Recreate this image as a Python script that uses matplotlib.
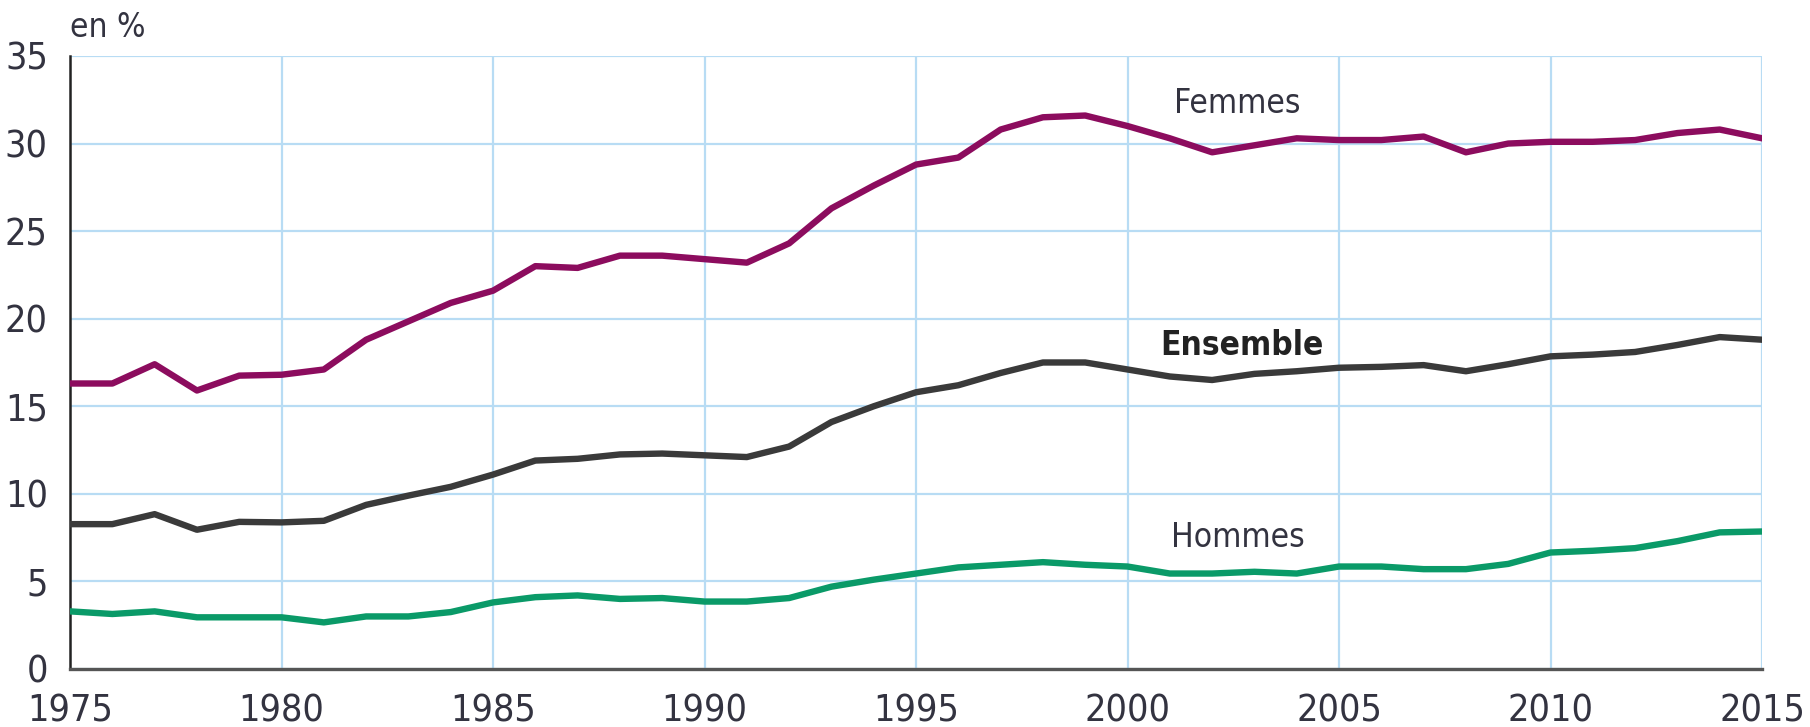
import matplotlib
matplotlib.use("Agg")
import matplotlib.pyplot as plt

years = list(range(1975, 2016))
femmes = [16.3, 16.3, 17.4, 15.9, 16.75, 16.8, 17.1, 18.8, 19.85, 20.9,
          21.6, 23.0, 22.9, 23.6, 23.6, 23.4, 23.2, 24.3, 26.3, 27.6,
          28.8, 29.2, 30.8, 31.5, 31.6, 31.0, 30.3, 29.5, 29.9, 30.3,
          30.2, 30.2, 30.4, 29.5, 30.0, 30.1, 30.1, 30.2, 30.6, 30.8, 30.3]
ensemble = [8.27, 8.27, 8.84, 7.95, 8.4, 8.37, 8.46, 9.37, 9.9, 10.4,
            11.1, 11.9, 12.0, 12.25, 12.3, 12.2, 12.1, 12.7, 14.1, 15.0,
            15.8, 16.2, 16.9, 17.5, 17.5, 17.1, 16.7, 16.5, 16.85, 17.0,
            17.2, 17.25, 17.35, 17.0, 17.4, 17.85, 17.95, 18.1, 18.5, 18.95, 18.8]
hommes = [3.29, 3.14, 3.29, 2.95, 2.95, 2.95, 2.66, 3.0, 3.0, 3.25,
          3.8, 4.1, 4.2, 4.0, 4.05, 3.85, 3.85, 4.05, 4.7, 5.1,
          5.45, 5.8, 5.95, 6.1, 5.95, 5.85, 5.45, 5.45, 5.55, 5.45,
          5.85, 5.85, 5.7, 5.7, 6.0, 6.65, 6.75, 6.9, 7.3, 7.8, 7.85]

xticks = [1975, 1980, 1985, 1990, 1995, 2000, 2005, 2010, 2015]
yticks = [0, 5, 10, 15, 20, 25, 30, 35]
series_labels = ["Femmes", "Ensemble", "Hommes"]
label_pos = [(2002.6, 32.3), (2002.7, 18.45), (2002.6, 7.5)]

plt.rcParams['font.family'] = ["DejaVu Sans"]
plt.rcParams['font.stretch'] = "condensed"

txt = "#333340"
grid_c = "#b8dcf4"

fig = plt.figure(figsize=(18.10, 7.27), dpi=100)
ax = fig.add_axes([0.0387, 0.0798, 0.9348, 0.8432])

ax.plot(years, femmes, color="#8c0c5e", lw=4.6, zorder=3)
ax.plot(years, ensemble, color="#3a3a3a", lw=4.6, zorder=3)
ax.plot(years, hommes, color="#0a9a68", lw=4.6, zorder=3)

ax.set_xlim(1975, 2015)
ax.set_ylim(0, 35)
ax.set_xticks(xticks)
ax.set_yticks(yticks)
ax.grid(True, color=grid_c, lw=1.6, zorder=0)
ax.tick_params(length=0, labelsize=27, colors=txt)
ax.tick_params(axis='x', pad=18)
ax.tick_params(axis='y', pad=16)
for lab in ax.get_xticklabels() + ax.get_yticklabels():
    lab.set_fontstretch("condensed")
for s in ["top", "right"]:
    ax.spines[s].set_visible(False)
ax.spines["left"].set_color("#222222")
ax.spines["left"].set_linewidth(1.8)
ax.spines["bottom"].set_color("#555555")
ax.spines["bottom"].set_linewidth(2.4)

colors_lab = [txt, "#222222", txt]
weights = ["normal", "bold", "normal"]
for lab, (x, y), c, w in zip(series_labels, label_pos, colors_lab, weights):
    ax.text(x, y, lab, ha="center", va="center", fontsize=24, color=c,
            fontweight=w, fontstretch="condensed")

fig.text(0.0387, 0.985, "en %", ha="left", va="top", fontsize=24, color=txt,
         fontstretch="condensed")

fig.savefig("out.png", dpi=100)
